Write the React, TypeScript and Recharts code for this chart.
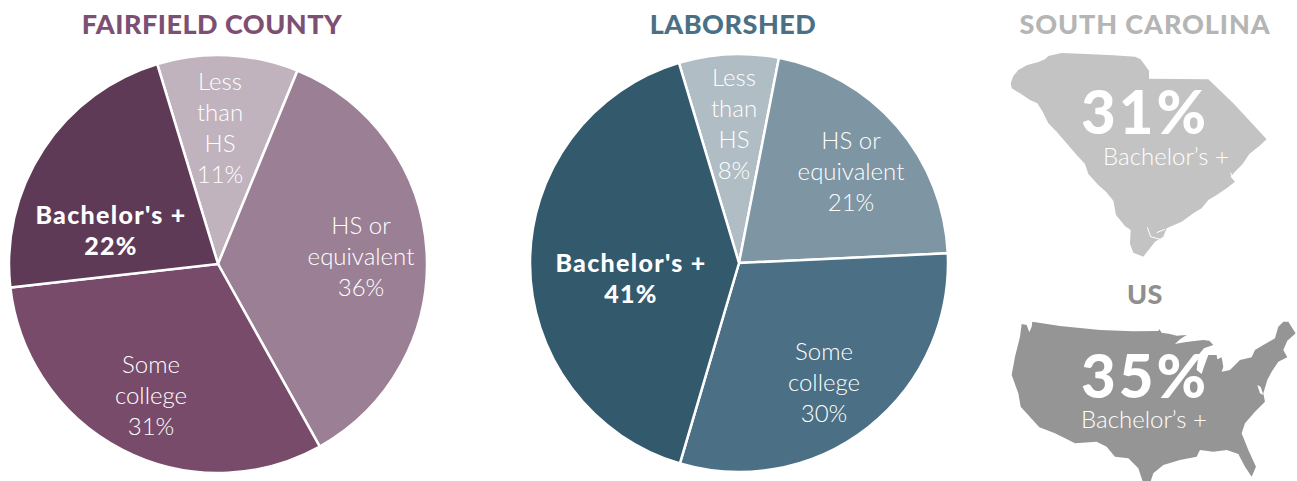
import { PieChart, Pie, Cell } from "recharts";

const categories = ["Less than HS", "HS or equivalent", "Some college", "Bachelor's +"];
const fairfieldValues = [10.9, 35.7, 31.3, 22.1];
const laborshedValues = [7.7, 21.2, 30.3, 40.8];
const fairfieldColors = ["#c0b3bd", "#9b7f95", "#784b6b", "#5e3a57"];
const laborshedColors = ["#b0bdc4", "#7e95a3", "#4b6f84", "#33596d"];

const fairfieldData = categories.map((name, i) => ({ name, value: fairfieldValues[i] }));
const laborshedData = categories.map((name, i) => ({ name, value: laborshedValues[i] }));

const FONT = "Lato, 'Noto Sans', sans-serif";

// state outlines at 3x
const SC_PATH =
  "M32 130 L40 108 L55 90 L80 76 L115 66 L135 58 L145 48 L185 39 L260 42 L340 46 L405 50 L422 58 L435 76 L447 92 L447 116 L625 118 L700 190 L800 298 L778 318 L748 342 L728 372 L705 395 L692 410 L705 425 L680 445 L650 465 L625 480 L605 505 L580 520 L545 545 L500 565 L490 590 L465 605 L450 625 L430 650 L400 638 L390 612 L392 570 L375 558 L348 525 L340 482 L318 455 L295 435 L265 402 L255 372 L230 345 L210 322 L170 275 L145 250 L128 215 L112 190 L90 180 L60 160 L35 145 Z";
const US_PATH =
  "M65 162 L80 165 L88 187 L95 170 L97 155 L180 168 L300 180 L400 184 L475 183 L478 177 L485 188 L510 192 L530 197 L560 195 L540 208 L525 222 L545 218 L565 215 L590 212 L610 210 L628 212 L640 225 L612 235 L595 255 L590 300 L605 312 L612 290 L625 255 L650 255 L652 268 L665 262 L670 290 L665 305 L690 300 L720 270 L755 262 L765 240 L790 225 L825 205 L835 170 L850 155 L865 155 L887 190 L862 212 L850 240 L862 262 L835 275 L815 305 L802 330 L790 370 L795 395 L765 425 L735 460 L725 490 L745 540 L768 590 L755 620 L735 590 L715 552 L680 540 L640 545 L600 540 L590 560 L540 570 L490 585 L460 610 L450 640 L430 640 L415 595 L385 565 L345 560 L320 530 L290 515 L225 520 L165 490 L118 472 L62 410 L55 370 L35 315 L45 260 L60 200 Z";
const SC_INLETS = "M442 562 L452 590 L480 598 M470 578 L495 568 M692 398 L698 414";
const US_BAY = "M772 345 L780 370 L790 375 L782 350 Z";

function Lines({ x, y, lines, size = 24, bold = false, step = 31, spacing = 0 }: { x: number; y: number; lines: string[]; size?: number; bold?: boolean; step?: number; spacing?: number }) {
  return (
    <>
      {lines.map((l, i) => (
        <text key={i} x={x} y={y + i * step} textAnchor="middle" fill="#fff" fontFamily={FONT} fontSize={size} fontWeight={bold ? 900 : 300} letterSpacing={spacing}>
          {l}
        </text>
      ))}
    </>
  );
}

function Title({ x, y, color, spacing = 0.5, children }: { x: number; y: number; color: string; spacing?: number; children: string }) {
  return (
    <text x={x} y={y} textAnchor="middle" fill={color} fontFamily={FONT} fontSize={27} fontWeight={900} letterSpacing={spacing}>
      {children}
    </text>
  );
}

export default function App() {
  return (
    <div style={{ position: "absolute", left: 0, top: 0, width: 1297, height: 481 }}>
      <PieChart width={1297} height={481} margin={{ top: 0, right: 0, bottom: 0, left: 0 }}>
        <Pie data={fairfieldData} dataKey="value" cx={218} cy={264} outerRadius={209} startAngle={106.9} endAngle={-253.1} stroke="#fff" strokeWidth={2.5} isAnimationActive={false}>
          {fairfieldData.map((d, i) => (
            <Cell key={d.name} fill={fairfieldColors[i]} />
          ))}
        </Pie>
        <Pie data={laborshedData} dataKey="value" cx={739} cy={263} outerRadius={209} startAngle={106.7} endAngle={-253.3} stroke="#fff" strokeWidth={2.5} isAnimationActive={false}>
          {laborshedData.map((d, i) => (
            <Cell key={d.name} fill={laborshedColors[i]} />
          ))}
        </Pie>
      </PieChart>

      {/* titles, slice labels and the two maps sit on top of the pies */}
      <svg width={1297} height={481} style={{ position: "absolute", left: 0, top: 0 }}>
        <Title x={212} y={34} color="#7d5073">FAIRFIELD COUNTY</Title>
        <Title x={733} y={34} color="#4b7086">LABORSHED</Title>
        <Title x={1145} y={34} color="#b5b5b5" spacing={0.9}>SOUTH CAROLINA</Title>
        <Title x={1145} y={304} color="#8f8f8f">US</Title>

        <Lines x={220} y={90} lines={["Less", "than", "HS", "11%"]} />
        <Lines x={361} y={234} lines={["HS or", "equivalent", "36%"]} />
        <Lines x={151} y={373} lines={["Some", "college", "31%"]} />
        <Lines x={111} y={224} lines={["Bachelor's +", "22%"]} size={25} spacing={1.3} bold />

        <Lines x={734} y={86} lines={["Less", "than", "HS", "8%"]} />
        <Lines x={851} y={149} lines={["HS or", "equivalent", "21%"]} />
        <Lines x={824} y={360} lines={["Some", "college", "30%"]} />
        <Lines x={631} y={272} lines={["Bachelor's +", "41%"]} size={25} spacing={1.3} bold />

        <g transform="translate(1000,40) scale(0.3333)">
          <path d={SC_PATH} fill="#c3c3c3" />
          <path d={SC_INLETS} fill="none" stroke="#fff" strokeWidth={3} />
        </g>
        <g transform="translate(1000,270) scale(0.3333)">
          <path d={US_PATH} fill="#959595" />
          <path d={US_BAY} fill="#fff" />
        </g>

        <Lines x={1145} y={134} lines={["31%"]} size={60} spacing={3} bold />
        <Lines x={1166} y={165} lines={["Bachelor’s +"]} />
        <Lines x={1145} y={398} lines={["35%"]} size={60} spacing={3} bold />
        <Lines x={1144} y={428} lines={["Bachelor’s +"]} />
      </svg>
    </div>
  );
}
